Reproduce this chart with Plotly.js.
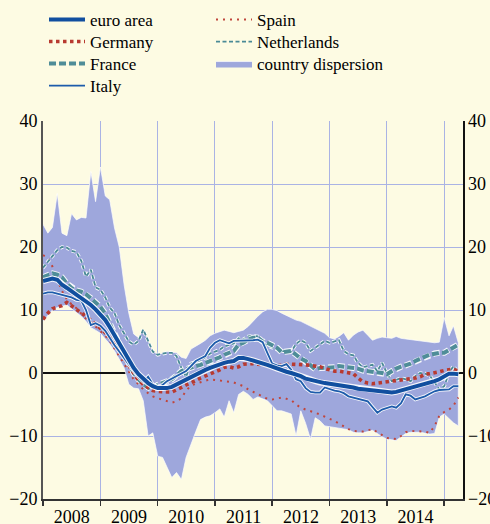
<!DOCTYPE html>
<html>
<head>
<meta charset="utf-8">
<script src="https://cdn.plot.ly/plotly-3.0.1.min.js"></script>
<style>html,body{margin:0;padding:0;background:#fdfbe3;}</style>
</head>
<body>
<div id="chart" style="width:490px;height:524px;"></div>
<script>
// Monthly data, January 2008 onwards (annual % change)
const startYear = 2008;

const euroArea = [14.6,14.8,15.0,14.8,14.0,13.5,13.0,12.5,11.9,11.4,10.8,10.1,
 9.3,8.4,7.3,6.0,4.6,3.2,1.9,0.8,-0.2,-1.0,-1.6,-2.1,
 -2.4,-2.4,-2.4,-2.2,-1.8,-1.5,-1.1,-0.7,-0.3,0.1,0.5,0.8,
 1.1,1.4,1.6,1.8,1.9,2.4,2.4,2.2,2.0,1.8,1.6,1.3,
 1.0,0.7,0.4,0.2,0.0,-0.2,-0.5,-0.9,-1.1,-1.3,-1.5,-1.6,
 -1.7,-1.8,-1.9,-2.0,-2.2,-2.3,-2.5,-2.6,-2.7,-2.8,-2.9,-3.0,
 -3.1,-3.1,-3.0,-2.8,-2.6,-2.4,-2.2,-2.0,-1.8,-1.6,-1.3,-1.0,
 -0.6,-0.1,-0.1,-0.2];

const germany = [8.5,9.5,10.2,10.5,10.7,11.2,10.7,10.1,9.6,9.0,8.4,7.8,
 7.2,6.4,5.6,4.6,3.4,2.4,1.2,0.0,-1.2,-1.8,-2.4,-2.8,
 -2.9,-3.0,-3.0,-3.0,-2.7,-2.3,-1.9,-1.6,-1.2,-0.8,-0.5,-0.1,
 0.2,0.5,0.9,1.0,0.8,1.0,1.4,1.5,1.5,1.4,1.3,1.1,
 1.1,1.1,1.3,1.4,1.4,1.4,1.4,1.3,1.2,1.1,1.0,0.7,
 0.5,0.3,0.3,0.2,0.1,-0.1,-0.8,-1.4,-1.6,-1.7,-1.6,-1.5,
 -1.4,-1.3,-1.3,-1.2,-1.1,-1.0,-0.8,-0.6,-0.2,-0.1,0.0,0.2,
 0.4,0.5,0.6,0.3];

const france = [15.2,15.5,15.8,15.6,15.2,14.2,13.5,13.1,12.9,12.5,11.9,11.2,
 10.5,9.4,7.9,6.0,4.2,3.0,1.6,0.0,-1.0,-1.8,-2.3,-2.6,
 -1.9,-1.6,-1.4,-1.0,-0.4,0.3,0.6,0.9,1.1,1.3,1.6,1.8,
 2.1,2.5,2.9,3.2,3.5,4.5,4.8,5.3,5.6,5.6,5.0,4.8,
 4.4,4.0,3.3,3.4,3.5,2.9,2.3,1.9,1.2,0.6,0.8,0.8,
 0.8,0.9,1.1,1.0,1.0,0.9,0.7,0.4,0.3,0.3,0.2,0.0,
 -0.2,0.3,0.7,1.0,1.2,1.5,1.9,2.3,2.6,2.9,3.1,3.2,
 3.2,3.7,4.1,4.5];

const italy = [12.6,12.8,12.8,12.6,12.5,12.3,12.0,11.6,11.5,10.0,7.6,7.9,
 7.5,6.7,5.5,4.4,3.4,2.3,1.2,0.3,-0.7,-1.4,-0.6,-1.8,
 -2.2,-1.9,-1.3,-0.9,-0.5,-0.1,0.3,1.1,1.9,2.3,2.7,4.0,
 4.8,5.2,5.0,4.7,5.1,5.1,5.1,5.1,5.2,5.3,4.9,3.2,
 1.5,1.2,1.1,1.4,0.5,-1.0,-1.3,-2.4,-3.0,-3.1,-3.1,-2.3,
 -2.6,-2.8,-2.9,-3.2,-3.7,-3.9,-4.1,-4.2,-4.5,-5.4,-6.3,-5.8,
 -5.5,-5.3,-5.5,-4.8,-3.4,-3.6,-4.2,-4.0,-3.7,-3.3,-2.9,-2.7,
 -2.6,-2.6,-2.1,-2.1];

const spain = [18.7,18.3,16.9,14.8,13.0,11.7,10.9,10.3,9.4,8.6,8.1,7.4,
 6.7,5.9,5.1,3.9,2.7,1.4,0.2,-1.0,-1.8,-2.6,-3.2,-3.7,
 -4.0,-4.2,-4.5,-4.7,-4.5,-4.0,-2.8,-2.0,-1.7,-1.5,-1.2,-1.0,
 -1.1,-1.2,-1.3,-1.4,-1.5,-1.8,-2.1,-2.6,-3.0,-3.4,-3.7,-4.1,
 -4.2,-4.0,-3.9,-4.1,-4.3,-5.0,-5.5,-5.8,-6.0,-6.3,-6.6,-6.9,
 -7.2,-7.6,-8.0,-8.5,-8.9,-9.2,-9.3,-9.3,-9.1,-8.9,-9.4,-9.9,
 -10.3,-10.4,-10.5,-10.0,-9.4,-9.2,-9.2,-9.2,-9.3,-9.5,-8.4,-6.8,
 -6.2,-5.8,-5.2,-3.9];

const netherlands = [16.7,17.6,18.6,19.5,20.0,19.9,19.4,19.2,17.8,15.3,16.4,13.6,
 13.2,12.0,10.4,9.5,7.6,6.2,5.0,4.5,5.1,6.9,5.1,3.4,
 2.9,3.1,3.2,3.2,2.7,0.8,-0.6,1.5,1.8,2.0,2.5,3.1,
 3.4,3.7,4.2,4.5,4.7,5.5,5.3,5.8,5.9,5.8,4.8,4.3,
 4.0,3.7,3.5,3.4,3.4,4.6,5.2,4.8,3.5,4.0,4.6,5.1,
 4.8,5.0,5.2,3.5,3.0,2.8,1.6,0.9,1.1,1.3,0.3,1.6,
 0.0,-1.3,-1.1,-0.8,-1.0,-1.3,-0.5,0.0,-0.1,-0.4,-1.5,-2.6,
 -2.1,0.0,1.1,0.0];

const dispersionHigh = [23.6,22.2,23.1,28.5,22.2,21.8,25.3,24.3,24.7,24.6,32.0,27.2,
 32.7,28.1,27.5,23.0,20.0,14.0,9.5,6.2,5.6,6.9,5.1,3.4,
 3.0,3.1,3.4,3.3,3.2,2.5,2.3,3.8,4.2,4.7,5.2,5.9,
 6.3,6.6,6.8,6.6,6.4,6.6,6.8,7.4,8.3,9.0,9.7,10.1,
 10.1,9.9,9.5,9.1,8.8,8.4,8.2,7.8,7.4,7.0,6.6,6.3,
 5.6,5.4,5.8,6.4,5.2,6.0,6.5,6.8,6.0,5.2,5.5,5.7,
 5.6,5.5,5.8,5.5,5.4,5.3,5.2,5.1,5.0,4.9,4.8,4.9,
 8.8,5.9,7.5,4.8];

const dispersionLow = [8.2,9.2,10.0,10.4,10.6,10.8,10.2,9.6,9.0,8.2,7.2,6.8,
 6.3,5.4,4.6,3.5,2.2,0.8,-1.8,-2.4,-2.5,-4.4,-10.0,-9.5,
 -13.2,-13.4,-15.0,-16.6,-15.8,-16.9,-13.4,-11.4,-9.3,-7.4,-7.0,-6.8,
 -6.3,-5.7,-7.0,-4.4,-6.3,-3.4,-2.9,-3.4,-4.2,-3.8,-4.1,-4.4,
 -5.2,-6.0,-6.0,-6.2,-6.5,-10.0,-6.0,-8.0,-10.5,-7.1,-7.6,-8.4,
 -8.5,-8.7,-8.8,-8.9,-9.0,-9.4,-9.5,-9.5,-9.3,-9.1,-9.6,-10.1,
 -10.5,-10.6,-10.7,-10.2,-9.6,-9.4,-9.4,-9.4,-9.5,-9.7,-9.6,-7.0,
 -6.5,-7.2,-7.9,-8.4];

const yTicks = [-20, -10, 0, 10, 20, 30, 40];

// month dates
const months = euroArea.map((_, i) => {
  const y = startYear + Math.floor(i / 12);
  const m = (i % 12) + 1;
  return y + '-' + String(m).padStart(2, '0') + '-01';
});

const FONT = "Liberation Serif, Tinos, DejaVu Serif, serif";

function halo(y, width, dash) {
  return {x: months, y: y, type: 'scatter', mode: 'lines', showlegend: false, hoverinfo: 'skip',
          line: {color: 'rgba(255,255,255,0.9)', width: width, dash: dash || 'solid'}};
}
function series(name, y, color, width, dash, leg) {
  return {x: months, y: y, name: name, type: 'scatter', mode: 'lines', legend: leg,
          line: {color: color, width: width, dash: dash || 'solid'}};
}

const bandX = months.concat(months.slice().reverse());
const bandY = dispersionHigh.concat(dispersionLow.slice().reverse());

const traces = [
  {x: bandX, y: bandY, name: 'country dispersion', type: 'scatter', mode: 'lines', fill: 'toself',
   fillcolor: '#9ea7dc', line: {color: 'rgba(255,255,255,0.85)', width: 0.8}, legend: 'legend7'},
  series('Spain', spain, '#c0463c', 2, '2px,5px', 'legend5'),
  halo(netherlands, 3.6, '4px,2.5px'),
  series('Netherlands', netherlands, '#4a8a96', 1.8, '4px,2.5px', 'legend6'),
  halo(france, 6, '7px,3px'),
  series('France', france, '#4f8d98', 4, '7px,3px', 'legend3'),
  series('Germany', germany, '#b83a30', 3.6, '3.5px,3.5px', 'legend2'),
  halo(italy, 3.6),
  series('Italy', italy, '#1d5cab', 1.8, 'solid', 'legend4'),
  halo(euroArea, 6),
  series('euro area', euroArea, '#114f9f', 4, 'solid', 'legend'),
  {x: [months[0]], y: [null], yaxis: 'y2', type: 'scatter', mode: 'lines', showlegend: false, hoverinfo: 'skip'}
];

function itemLegend(xPx, yPx) {
  return {orientation: 'h', xref: 'container', yref: 'container', x: xPx / 490, y: 1 - yPx / 524,
          xanchor: 'left', yanchor: 'middle', bgcolor: 'rgba(0,0,0,0)', itemwidth: 36,
          font: {family: FONT, size: 17, color: '#000'}};
}

const layout = {
  width: 490, height: 524,
  paper_bgcolor: '#fdfbe3', plot_bgcolor: '#fdfbe3',
  margin: {l: 43, r: 27, t: 121, b: 25},
  font: {family: FONT, size: 18, color: '#000'},
  showlegend: true,
  legend: itemLegend(44, 20),
  legend2: itemLegend(44, 42),
  legend3: itemLegend(44, 64),
  legend4: itemLegend(44, 86),
  legend5: itemLegend(211, 20),
  legend6: itemLegend(211, 42),
  legend7: itemLegend(211, 64),
  xaxis: {type: 'date', range: ['2008-01-01', '2015-05-01'], dtick: 'M12', tick0: '2008-01-01',
          ticklabelmode: 'period', tickformat: '%Y', ticks: 'outside', ticklen: 5, tickwidth: 1.5,
          ticklabelstandoff: -4,
          tickcolor: '#333', showline: true, linecolor: '#333', linewidth: 1.5,
          showgrid: true, gridcolor: '#aab3e4', gridwidth: 1, zeroline: false,
          tickfont: {family: FONT, size: 18, color: '#000'}},
  yaxis: {range: [-20, 40], tickvals: yTicks, showgrid: true, gridcolor: '#aab3e4', gridwidth: 1,
          zeroline: true, zerolinecolor: '#111', zerolinewidth: 1.5,
          showline: true, linecolor: '#555', linewidth: 2, ticks: '',
          tickfont: {family: FONT, size: 18, color: '#000'}},
  yaxis2: {range: [-20, 40], tickvals: yTicks, overlaying: 'y', side: 'right', showgrid: false,
           zeroline: false, showline: true, linecolor: '#111', linewidth: 1.5, ticks: '',
           tickfont: {family: FONT, size: 18, color: '#000'}}
};

Plotly.newPlot('chart', traces, layout, {staticPlot: true, displayModeBar: false});
</script>
</body>
</html>
